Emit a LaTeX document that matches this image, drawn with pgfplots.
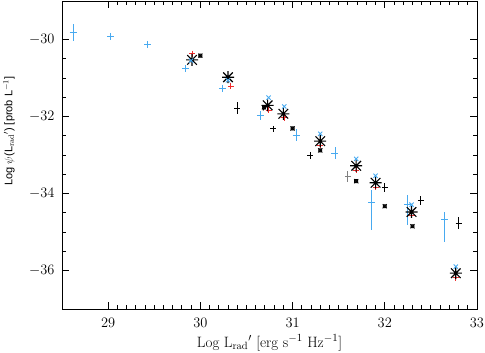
\documentclass[border=0pt]{standalone}
\usepackage{fontspec}
\setsansfont{Liberation Sans}
\usepackage{pgfplots}
\pgfplotsset{compat=1.18}

\definecolor{lblue}{RGB}{72,170,240}
\definecolor{lred}{RGB}{240,45,45}

% IDL-style asterisk: plus and cross together
\pgfdeclareplotmark{ast8}{%
  \pgfpathmoveto{\pgfqpoint{-\pgfplotmarksize}{0pt}}%
  \pgfpathlineto{\pgfqpoint{\pgfplotmarksize}{0pt}}%
  \pgfpathmoveto{\pgfqpoint{0pt}{-\pgfplotmarksize}}%
  \pgfpathlineto{\pgfqpoint{0pt}{\pgfplotmarksize}}%
  \pgfpathmoveto{\pgfqpoint{-0.8\pgfplotmarksize}{-0.8\pgfplotmarksize}}%
  \pgfpathlineto{\pgfqpoint{0.8\pgfplotmarksize}{0.8\pgfplotmarksize}}%
  \pgfpathmoveto{\pgfqpoint{-0.8\pgfplotmarksize}{0.8\pgfplotmarksize}}%
  \pgfpathlineto{\pgfqpoint{0.8\pgfplotmarksize}{-0.8\pgfplotmarksize}}%
  \pgfusepathqstroke}
% small boxed cross
\pgfdeclareplotmark{boxx}{%
  \pgfpathrectangle{\pgfqpoint{-\pgfplotmarksize}{-\pgfplotmarksize}}{\pgfqpoint{2\pgfplotmarksize}{2\pgfplotmarksize}}%
  \pgfpathmoveto{\pgfqpoint{-1.3\pgfplotmarksize}{-1.3\pgfplotmarksize}}%
  \pgfpathlineto{\pgfqpoint{1.3\pgfplotmarksize}{1.3\pgfplotmarksize}}%
  \pgfpathmoveto{\pgfqpoint{-1.3\pgfplotmarksize}{1.3\pgfplotmarksize}}%
  \pgfpathlineto{\pgfqpoint{1.3\pgfplotmarksize}{-1.3\pgfplotmarksize}}%
  \pgfusepathqfillstroke}

\begin{document}
\begin{tikzpicture}
\begin{axis}[
    width=415pt, height=308pt, scale only axis,
    xmin=28.5, xmax=33, ymin=-37, ymax=-29,
    xtick={29,30,31,32,33}, ytick={-36,-34,-32,-30},
    minor x tick num=9, minor y tick num=3,
    tick align=inside, major tick length=7pt, minor tick length=4pt,
    tick style={black, line width=0.8pt},
    axis line style={line width=0.9pt},
    tick label style={font=\fontsize{14}{16}\selectfont},
    yticklabel style={xshift=-4pt},
    xticklabel style={yshift=-6pt},
    xlabel={Log L$_{\mathrm{rad}}$$'$ [erg s$^{-1}$ Hz$^{-1}$]},
    xlabel style={font=\fontsize{15}{17}\selectfont, at={(axis description cs:0.5,0)}, anchor=base, yshift=-38pt},
    ylabel={Log $\psi$(L$_{\mathrm{rad}}$$'$) [prob L$^{-1}$]},
    ylabel style={font=\sffamily\fontsize{11}{13}\selectfont, at={(axis description cs:-0.128,0.578)}, anchor=center},
    clip=false,
]
% light blue crosses with error bars
\addplot[only marks, mark=+, mark size=3.5pt, color=lblue, line width=0.8pt,
  error bars/.cd, y dir=both, y explicit, error mark=none,
  error bar style={line width=0.8pt, color=lblue}]
  coordinates {
    (28.62,-29.81) +- (0,0.22)
    (29.03,-29.92) +- (0,0.05)
    (29.43,-30.14) +- (0,0.05)
    (29.84,-30.76) +- (0,0.05)
    (30.24,-31.26) +- (0,0.05)
    (30.65,-31.97) +- (0,0.12)
    (31.04,-32.48) +- (0,0.15)
    (31.46,-32.95) +- (0,0.15)
    (31.86,-34.23) += (0,0.31) -= (0,0.73)
    (32.25,-34.29) += (0,0.24) -= (0,0.54)
    (32.65,-34.68) += (0,0.19) -= (0,0.58)
  };
% black crosses with error bars
\addplot[only marks, mark=+, mark size=3pt, color=black, line width=0.8pt,
  error bars/.cd, y dir=both, y explicit, error mark=none,
  error bar style={line width=0.8pt, color=black}]
  coordinates {
    (30.40,-31.78) +- (0,0.16)
    (30.79,-32.32) +- (0,0.05)
    (31.19,-33.01) +- (0,0.10)
    (32.00,-33.84) +- (0,0.12)
    (32.39,-34.18) +- (0,0.12)
    (32.80,-34.77) +- (0,0.15)
  };
\addplot[only marks, mark=+, mark size=3pt, color=gray, line width=0.8pt,
  error bars/.cd, y dir=both, y explicit, error mark=none,
  error bar style={line width=0.8pt, color=gray}]
  coordinates {(31.60,-33.56) +- (0,0.15)};
% small boxed black points
\addplot[only marks, mark=boxx, mark size=1.6pt, color=black, line width=0.7pt,
  mark options={fill=black!70}]
  coordinates {(30.00,-30.42) (30.69,-31.76) (31.00,-32.31) (31.30,-32.88)
               (31.69,-33.68) (32.00,-34.33) (32.30,-34.85)};
% red plus
\addplot[only marks, mark=+, mark size=3pt, color=lred, line width=0.9pt]
  coordinates {(29.91,-30.37) (30.33,-31.22) (30.74,-31.83) (30.91,-32.03)
               (31.30,-32.75) (31.69,-33.40) (31.90,-33.84) (32.29,-34.57) (32.77,-36.19)};
% big black asterisks
\addplot[only marks, mark=ast8, mark size=6pt, color=black, line width=1.1pt]
  coordinates {(29.91,-30.53) (30.30,-30.98) (30.73,-31.71) (30.90,-31.93)
               (31.30,-32.64) (31.69,-33.28) (31.90,-33.72) (32.29,-34.48) (32.77,-36.07)};
% light blue crosses (x)
\addplot[only marks, mark=x, mark size=3pt, color=lblue, line width=0.9pt]
  coordinates {(29.90,-30.55) (30.30,-31.06) (30.74,-31.51) (30.91,-31.74)
               (31.30,-32.45) (31.69,-33.10) (31.90,-33.54) (32.29,-34.29) (32.77,-35.90)};
\end{axis}
\pgfresetboundingbox
\path ([shift={(-62pt,-43pt)}]current axis.south west) rectangle ([shift={(8pt,1pt)}]current axis.north east);
\end{tikzpicture}
\end{document}
